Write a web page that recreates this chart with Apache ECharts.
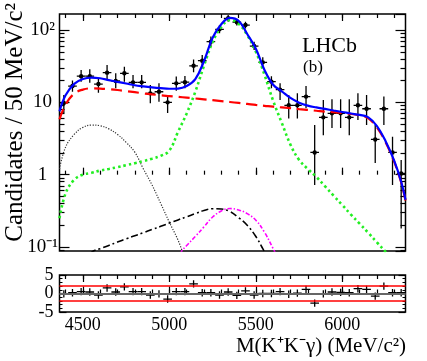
<!DOCTYPE html>
<html>
<head>
<meta charset="utf-8">
<script src="https://cdn.jsdelivr.net/npm/echarts@6/dist/echarts.min.js"></script>
<style>
  html, body { margin: 0; padding: 0; background: #fff; }
  #main { width: 427px; height: 361px; }
</style>
</head>
<body>
<div id="main"></div>
<script>
// bins of 50 MeV/c2
var binCenters = [4390, 4440, 4490, 4540, 4590, 4640, 4690, 4740, 4790, 4840,
  4890, 4940, 4990, 5040, 5090, 5140, 5190, 5240, 5290, 5340,
  5390, 5440, 5490, 5540, 5590, 5640, 5690, 5740, 5790, 5840,
  5890, 5940, 5990, 6040, 6090, 6140, 6190, 6240, 6290, 6340];
var halfBin = 25;
var counts = [9.8, 16.8, 23, 23, 17.9, 25.7, 19.7, 25.2, 18.9, 18.9,
  13.3, 14, 10, 18.3, 19, 32, 37.6, 69, 102, 145,
  128, 117, 60, 35.7, 19.3, 15, 9.1, 9.1, 12, 2.03,
  6.2, 7.05, 7.05, 6.2, 9.1, 8.15, 3.07, 8.15, 2.03, 1.04];
var countsHigh = [12.6, 20, 28, 28.6, 21.4, 32.8, 25.2, 31, 23.9, 23.9,
  17.3, 18.4, 12.6, 22.7, 23.2, 39, 45, 81, 117, 161,
  140, 130, 69, 42, 23, 18.4, 12.6, 13.3, 16.8, 4.85,
  10.8, 11, 11, 11, 13.3, 12.6, 4.85, 12, 3.34, 1.59];
var countsLow = [7.1, 14, 19.3, 18.7, 13.6, 20.3, 15.6, 19.3, 15.6, 15.6,
  9.7, 10.2, 7.1, 14.5, 15.6, 26, 31, 59, 90, 130,
  115, 105, 53, 30, 15.6, 10.8, 6, 6, 8.3, 0.72,
  3.5, 4.4, 4.4, 3.5, 5.7, 4.85, 1.45, 4.85, 0.72, 0.18];
var pulls = [-0.1, 0.2, 0.5, 0.4, -0.4, 1.5, 0.4, 1.8, 0.5, 0.5,
  -0.4, -0.1, -1.5, 0.5, 0.5, 2.6, 0.2, 0.2, -0.4, 0.4,
  -0.5, 0.7, -0.4, 0, 0, 0.5, -0.2, 0.1, 1.1, -2.6,
  -0.1, 0.4, 0.3, 0.2, 1.3, 1.1, -0.7, 2.0, 0.2, 0.2];
var pullError = 1;

// fit curves, [mass, candidates]
var totalFit = [[4365, 7.5], [4400, 12.5], [4450, 18], [4500, 21], [4550, 22], [4600, 21.5],
  [4650, 20.3], [4700, 19.2], [4750, 18.2], [4800, 17.2], [4850, 16.6], [4900, 16.1],
  [4950, 15.7], [5000, 15.4], [5050, 15.5], [5100, 16.8], [5150, 21], [5200, 37],
  [5250, 78], [5300, 120], [5350, 147], [5400, 134], [5450, 88], [5500, 55], [5550, 28],
  [5600, 17.5], [5650, 14.2], [5700, 11.5], [5750, 9.9], [5800, 9.0], [5850, 8.5],
  [5900, 8.1], [5950, 7.7], [6000, 7.35], [6050, 7.0], [6100, 6.7], [6150, 6.2],
  [6200, 4.7], [6250, 2.9], [6300, 1.55], [6340, 0.8], [6365, 0.45]];
var combBkg = [[4365, 5.8], [4400, 9.3], [4450, 13.2], [4500, 15.0], [4550, 15.6], [4600, 15.5],
  [4650, 15.2], [4700, 14.8], [4750, 14.3], [4800, 13.8], [4850, 13.3], [4900, 12.9],
  [4950, 12.5], [5000, 12.2], [5050, 11.9], [5100, 11.6], [5150, 11.3], [5200, 11.0],
  [5250, 10.7], [5300, 10.4], [5350, 10.1], [5400, 9.8], [5450, 9.5], [5500, 9.2],
  [5550, 8.95], [5600, 8.7], [5650, 8.5], [5700, 8.3], [5750, 8.05], [5800, 7.85],
  [5850, 7.65], [5900, 7.45], [5950, 7.3], [6000, 7.1], [6050, 6.9], [6100, 6.6],
  [6150, 6.0], [6200, 4.5], [6250, 2.8], [6300, 1.5], [6340, 0.78], [6365, 0.44]];
var signal = [[4365, 0.25], [4400, 0.55], [4450, 0.85], [4500, 1.0], [4550, 1.06], [4600, 1.14],
  [4650, 1.2], [4700, 1.27], [4750, 1.35], [4800, 1.44], [4850, 1.54], [4900, 1.66],
  [4950, 1.82], [5000, 2.15], [5050, 3.9], [5100, 7.0], [5150, 14], [5200, 32],
  [5250, 68], [5300, 110], [5350, 137], [5400, 122], [5450, 85], [5500, 50], [5550, 24],
  [5600, 10.5], [5650, 5.2], [5700, 2.6], [5750, 1.6], [5800, 1.2], [5850, 0.93],
  [5900, 0.69], [5950, 0.51], [6000, 0.38], [6050, 0.28], [6100, 0.21], [6150, 0.157],
  [6200, 0.116], [6250, 0.086], [6270, 0.076]];
var lowMassBkg = [[4365, 1.2], [4400, 2.4], [4450, 3.6], [4500, 4.5], [4550, 4.85], [4600, 4.75],
  [4650, 4.3], [4700, 3.6], [4750, 2.8], [4800, 2.05], [4850, 1.2], [4900, 0.72],
  [4950, 0.4], [5000, 0.22], [5050, 0.125], [5080, 0.08]];
var peakingBkgA = [[4540, 0.08], [4561, 0.088], [4600, 0.095], [4650, 0.105], [4700, 0.117],
  [4750, 0.13], [4800, 0.143], [4850, 0.158], [4900, 0.175], [4950, 0.193], [5000, 0.214],
  [5050, 0.237], [5100, 0.262], [5150, 0.29], [5200, 0.32], [5250, 0.338], [5300, 0.335],
  [5350, 0.31], [5400, 0.255], [5450, 0.2], [5500, 0.14], [5540, 0.095], [5555, 0.08]];
var peakingBkgB = [[5065, 0.08], [5072, 0.088], [5100, 0.105], [5150, 0.14], [5200, 0.19],
  [5250, 0.26], [5300, 0.315], [5350, 0.34], [5400, 0.325], [5450, 0.29], [5500, 0.235],
  [5550, 0.16], [5600, 0.095], [5615, 0.08]];

// axes
var massMin = 4365, massMax = 6365;
var yMin = 0.0881, yMax = 166.3;
var xMajorTicks = [4500, 5000, 5500, 6000];
var xMinorTicks = [4400, 4500, 4600, 4700, 4800, 4900, 5000, 5100, 5200, 5300,
  5400, 5500, 5600, 5700, 5800, 5900, 6000, 6100, 6200, 6300];
var yMinorTicks = [0.09, 0.2, 0.3, 0.4, 0.5, 0.6, 0.7, 0.8, 0.9, 2, 3, 4, 5, 6, 7, 8, 9,
  20, 30, 40, 50, 60, 70, 80, 90];
var yTickText = { '-1': '10⁻¹', '0': '1', '1': '10', '2': '10²' };

var font = 'Liberation Serif';
var black = '#000';

function errorBars(withDot) {
  return function (params, api) {
    var m = api.value(0), v = api.value(1), lo = api.value(2), hi = api.value(3);
    var l = api.coord([m - halfBin, v]);
    var r = api.coord([m + halfBin, v]);
    var t = api.coord([m, hi]);
    var b = api.coord([m, lo]);
    var st = { stroke: black, lineWidth: 1.3 };
    var kids = [
      { type: 'line', shape: { x1: l[0], y1: l[1], x2: r[0], y2: r[1] }, style: st },
      { type: 'line', shape: { x1: t[0], y1: t[1], x2: b[0], y2: b[1] }, style: st }
    ];
    if (withDot) {
      kids.push({ type: 'circle', shape: { cx: t[0], cy: l[1], r: 2.2 }, style: { fill: black } });
    }
    var cs = params.coordSys;
    return {
      type: 'group', children: kids,
      clipPath: { type: 'rect', shape: { x: cs.x, y: cs.y, width: cs.width, height: cs.height } }
    };
  };
}

function massAxis(grid, pos, ticks, len, labels) {
  return {
    type: 'value', gridIndex: grid, position: pos, min: massMin, max: massMax,
    axisLine: { show: false },
    splitLine: { show: false },
    axisTick: { customValues: ticks, inside: true, length: len, lineStyle: { color: black, width: 1.2 } },
    axisLabel: labels ? {
      customValues: xMajorTicks, fontFamily: font, fontSize: 18, color: black, margin: 4,
      formatter: function (v) { return String(v); }
    } : { show: false }
  };
}

function logAxis(pos, labels) {
  return {
    type: 'log', logBase: 10, gridIndex: 0, position: pos, min: yMin, max: yMax,
    axisLine: { show: false },
    splitLine: { show: false },
    minorTick: { show: false },
    axisTick: { inside: true, length: 10, lineStyle: { color: black, width: 1.2 } },
    axisLabel: labels ? {
      fontFamily: font, fontSize: 19, color: black, align: 'center', margin: 17,
      showMinLabel: false, showMaxLabel: false,
      formatter: function (v) { return yTickText[String(Math.round(Math.log10(v)))] || ''; }
    } : { show: false }
  };
}

function logMinorAxis(pos) {
  return {
    type: 'value', gridIndex: 0, position: pos,
    min: Math.log10(yMin), max: Math.log10(yMax),
    axisLine: { show: false }, splitLine: { show: false }, axisLabel: { show: false },
    axisTick: {
      customValues: yMinorTicks.map(function (v) { return Math.log10(v); }),
      inside: true, length: 5, lineStyle: { color: black, width: 1.2 }
    }
  };
}

function pullAxis(pos, labels) {
  return {
    type: 'value', gridIndex: 1, position: pos, min: -5, max: 5, interval: 5,
    axisLine: { show: false }, splitLine: { show: false },
    axisTick: { inside: true, length: 7, lineStyle: { color: black, width: 1.2 } },
    minorTick: { show: true, splitNumber: 5, length: 3, lineStyle: { color: black, width: 1 } },
    axisLabel: labels ? {
      fontFamily: font, fontSize: 18, color: black, margin: 6,
      showMinLabel: true, showMaxLabel: true
    } : { show: false }
  };
}

function curve(data, color, width, dash) {
  return {
    type: 'line', xAxisIndex: 0, yAxisIndex: 0, data: data,
    smooth: 0.4, showSymbol: false, clip: true, silent: true,
    lineStyle: { color: color, width: width, type: dash }
  };
}

var chart = echarts.init(document.getElementById('main'), null, { renderer: 'canvas' });

chart.setOption({
  animation: false,
  backgroundColor: '#fff',
  textStyle: { fontFamily: font },
  grid: [
    { left: 59.5, top: 14, width: 346, height: 237, show: true, borderColor: black, borderWidth: 1.5, backgroundColor: 'transparent' },
    { left: 59.5, top: 275, width: 346, height: 37, show: true, borderColor: black, borderWidth: 1.5, backgroundColor: 'transparent' }
  ],
  xAxis: [
    massAxis(0, 'bottom', xMajorTicks, 7, false),
    massAxis(0, 'bottom', xMinorTicks, 4, false),
    massAxis(0, 'top', xMajorTicks, 7, false),
    massAxis(0, 'top', xMinorTicks, 4, false),
    massAxis(1, 'bottom', xMajorTicks, 7, true),
    massAxis(1, 'bottom', xMinorTicks, 4, false),
    massAxis(1, 'top', xMajorTicks, 7, false),
    massAxis(1, 'top', xMinorTicks, 4, false)
  ],
  yAxis: [
    logAxis('left', true),
    logAxis('right', false),
    logMinorAxis('left'),
    logMinorAxis('right'),
    pullAxis('left', true),
    pullAxis('right', false)
  ],
  graphic: [
    {
      type: 'text', x: 15, y: 3, rotation: Math.PI / 2,
      style: { text: 'Candidates / 50 MeV/c²', font: '25px "Liberation Serif"', fill: black, align: 'right', verticalAlign: 'middle' }
    },
    {
      type: 'text', x: 406, y: 346,
      style: { text: 'M(K⁺K⁻γ) (MeV/c²)', font: '21px "Liberation Serif"', fill: black, align: 'right', verticalAlign: 'middle' }
    },
    {
      type: 'text', x: 302, y: 46.5,
      style: { text: 'LHCb', font: '22px "Liberation Serif"', fill: black, align: 'left', verticalAlign: 'middle' }
    },
    {
      type: 'text', x: 303, y: 67.5,
      style: { text: '(b)', font: '17px "Liberation Serif"', fill: black, align: 'left', verticalAlign: 'middle' }
    }
  ],
  series: [
    curve(lowMassBkg, '#333', 1.2, [1.2, 1.5]),
    curve(peakingBkgA, black, 1.6, [7, 3, 2, 3]),
    curve(peakingBkgB, '#ff00ff', 1.6, [4, 2, 1.5, 2]),
    curve(signal, '#22ee22', 2.6, [2.5, 3]),
    curve(combBkg, '#ff0000', 2.2, [11, 6]),
    {
      type: 'custom', xAxisIndex: 0, yAxisIndex: 0, silent: true,
      renderItem: errorBars(true),
      encode: { x: 0, y: 1 },
      data: binCenters.map(function (m, i) { return [m, counts[i], countsLow[i], countsHigh[i]]; })
    },
    curve(totalFit, '#0000ff', 2.2, 'solid'),
    {
      type: 'custom', xAxisIndex: 4, yAxisIndex: 4, silent: true,
      renderItem: errorBars(false),
      encode: { x: 0, y: 1 },
      data: binCenters.map(function (m, i) { return [m, pulls[i], pulls[i] - pullError, pulls[i] + pullError]; }),
      markLine: {
        silent: true, symbol: 'none', label: { show: false },
        data: [
          { yAxis: 0, lineStyle: { color: '#666', width: 2, type: 'solid' } },
          { yAxis: 2, lineStyle: { color: '#ff0000', width: 1.5, type: 'solid' } },
          { yAxis: -2, lineStyle: { color: '#ff0000', width: 1.5, type: 'solid' } }
        ]
      }
    }
  ]
});
</script>
</body>
</html>
